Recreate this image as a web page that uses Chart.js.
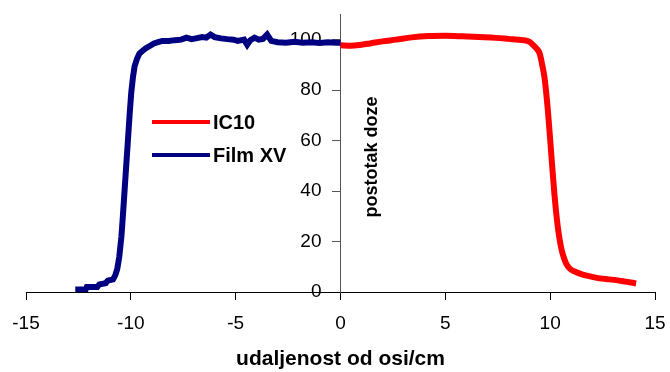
<!DOCTYPE html>
<html>
<head>
<meta charset="utf-8">
<script src="https://cdn.jsdelivr.net/npm/chart.js@4.4.1/dist/chart.umd.min.js"></script>
<style>
    html, body { margin: 0; padding: 0; background: #fff; }
    #wrap { width: 670px; height: 372px; position: relative; }
</style>
</head>
<body>
<div id="wrap"><canvas id="grafikon"></canvas></div>
<script>
// podaci ocitani sa slike
const filmX = [-12.65, -12.15, -12.1, -11.6, -11.5, -11.2, -11.1, -10.85, -10.75, -10.65, -10.55, -10.45, -10.38, -10.3, -10.22, -10.14, -10.06, -9.98, -9.9, -9.82, -9.7, -9.59, -9.45, -9.3, -9.1, -8.9, -8.7, -8.5, -8.2, -7.9, -7.6, -7.35, -7.1, -6.9, -6.6, -6.4, -6.2, -6.0, -5.7, -5.4, -5.1, -4.9, -4.6, -4.45, -4.3, -4.1, -3.9, -3.7, -3.5, -3.3, -3.0, -2.6, -2.2, -1.8, -1.4, -1.0, -0.6, -0.2, 0];
const filmY = [1, 1, 2, 2, 3, 3.5, 4.5, 5, 6.5, 9, 14, 22, 30, 40, 50, 60, 70, 79, 85, 89.5, 92.5, 94.5, 95.5, 96.5, 97.5, 98.5, 99, 99.5, 99.5, 99.8, 100, 100.8, 100.2, 100.5, 101, 100.8, 102, 101, 100.5, 100.2, 100, 99.5, 100, 98, 99.8, 100.8, 100, 100.3, 102, 99.5, 99, 98.8, 99.2, 98.8, 99, 98.7, 99, 98.8, 98.8];

const ic10X = [0, 0.5, 1.0, 1.4, 2.0, 2.65, 3.4, 4.2, 5.0, 5.8, 6.6, 7.4, 8.0, 8.7, 9.0, 9.17, 9.35, 9.5, 9.62, 9.73, 9.89, 10.05, 10.2, 10.36, 10.5, 10.6, 10.75, 10.92, 11.2, 11.55, 12.0, 12.35, 12.8, 13.15, 13.6, 14.1];
const ic10Y = [97.8, 97.6, 98, 98.5, 99.3, 100, 100.9, 101.4, 101.5, 101.3, 101, 100.7, 100.3, 99.8, 99.2, 98, 96.5, 94.5, 90, 85, 72, 55, 39, 26, 18.5, 15, 11.5, 9.4, 8, 6.9, 6, 5.4, 5, 4.7, 4.1, 3.4];

const xTicks = [-15, -10, -5, 0, 5, 10, 15];
const yTicks = [0, 20, 40, 60, 80, 100];

const font = "'Liberation Sans', Arial, sans-serif";

function tocke(xs, ys) {
    return xs.map((x, i) => ({ x: x, y: ys[i] }));
}

// legenda i naslov y osi crtamo sami jer stoje unutar grafa
const dodaci = {
    id: "dodaci",
    afterDraw(chart) {
        const ctx = chart.ctx;
        ctx.save();
        ctx.font = "bold 20px " + font;
        ctx.textBaseline = "middle";
        ctx.textAlign = "left";
        const legenda = [chart.data.datasets[0], chart.data.datasets[1]];
        legenda.forEach((ds, i) => {
            const y = 122 + i * 33;
            ctx.strokeStyle = ds.borderColor;
            ctx.lineWidth = 4;
            ctx.beginPath();
            ctx.moveTo(152, y);
            ctx.lineTo(210, y);
            ctx.stroke();
            ctx.fillStyle = "#000";
            ctx.fillText(ds.label, 213, y + 1);
        });

        // naslov y osi, desno od osi
        const x0 = chart.scales.x.getPixelForValue(0);
        ctx.translate(x0 + 32, 157);
        ctx.rotate(-Math.PI / 2);
        ctx.textAlign = "center";
        ctx.font = "bold 18px " + font;
        ctx.fillText("postotak doze", 0, 0);
        ctx.restore();
    }
};

new Chart(document.getElementById("grafikon"), {
    type: "line",
    data: {
        datasets: [
            {
                label: "IC10",
                data: tocke(ic10X, ic10Y),
                borderColor: "#ff0000",
                backgroundColor: "#ff0000",
                borderWidth: 6,
                pointRadius: 0,
                cubicInterpolationMode: "monotone",
                order: 2
            },
            {
                label: "Film XV",
                data: tocke(filmX, filmY),
                borderColor: "#000080",
                backgroundColor: "#000080",
                borderWidth: 6,
                pointRadius: 0,
                tension: 0,
                order: 1
            }
        ]
    },
    options: {
        responsive: true,
        maintainAspectRatio: false,
        animation: false,
        layout: { padding: { left: 26, right: 15, top: 14, bottom: 0 } },
        plugins: {
            legend: { display: false },
            tooltip: { enabled: false }
        },
        scales: {
            x: {
                type: "linear",
                position: "bottom",
                min: -15,
                max: 15,
                afterBuildTicks: s => { s.ticks = xTicks.map(v => ({ value: v })); },
                afterFit: s => { s.paddingLeft = 0; s.paddingRight = 0; },
                grid: { drawOnChartArea: false, tickLength: 8, color: "#000" },
                border: { color: "#000", width: 1 },
                ticks: { color: "#000", font: { family: font, size: 19 }, padding: 12, maxRotation: 0 },
                title: {
                    display: true,
                    text: "udaljenost od osi/cm",
                    color: "#000",
                    font: { family: font, size: 21, weight: "bold" },
                    padding: { top: 0, bottom: 0 }
                }
            },
            y: {
                type: "linear",
                position: { x: 0 },
                min: 0,
                max: 110,
                afterBuildTicks: s => { s.ticks = yTicks.map(v => ({ value: v })); },
                grid: { drawOnChartArea: false, tickLength: 8, color: "#555" },
                border: { color: "#555", width: 1 },
                ticks: {
                    color: "#000",
                    font: { family: font, size: 19 },
                    callback: v => v + "\u2002\u2002"
                }
            }
        }
    },
    plugins: [dodaci]
});
</script>
</body>
</html>
